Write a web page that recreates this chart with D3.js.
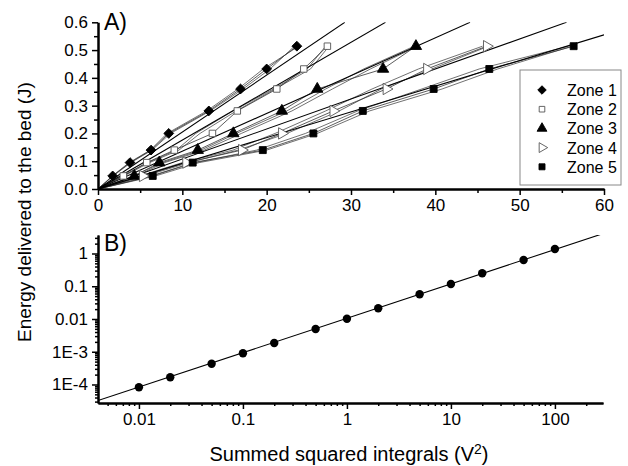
<!DOCTYPE html>
<html>
<head>
  <meta charset="utf-8">
  <script src="https://d3js.org/d3.v7.min.js"></script>
  <style>
    body { margin: 0; background: #fff; }
    text { font-family: "Liberation Sans", Arial, sans-serif; fill: #000; }
  </style>
</head>
<body>
  <svg id="chart"></svg>
  <script>
    // ---- data ----
    const zones = ["Zone 1", "Zone 2", "Zone 3", "Zone 4", "Zone 5"];
    const energyLevels = [0.047, 0.095, 0.140, 0.200, 0.281, 0.360, 0.432, 0.514];

    // mean points (with markers)
    const zone1 = [1.74, 3.80, 6.29, 8.39, 13.14, 16.9, 20.0, 23.58];
    const zone2 = [3.0, 5.78, 9.05, 13.57, 16.52, 21.2, 24.4, 27.2];
    const zone3 = [4.31, 7.27, 11.83, 16.05, 21.8, 26.0, 33.8, 37.7];
    const zone4 = [5.30, 10.44, 17.05, 21.8, 27.9, 34.2, 39.0, 46.1];
    const zone5 = [6.49, 11.23, 19.54, 25.54, 31.4, 39.8, 46.4, 56.4];

    // individual runs (thin lines, no markers)
    const zone1RunA = [1.8, 3.9, 6.4, 8.6, 13.3, 17.2, 20.4, 23.3];
    const zone1RunB = [1.7, 3.7, 6.2, 8.2, 12.9, 16.6, 19.6, 23.8];
    const zone2RunA = [2.9, 5.9, 9.3, 11.6, 16.0, 20.8, 24.8, 27.0];
    const zone2RunB = [3.1, 6.1, 9.6, 12.1, 16.4, 21.0, 25.2, 27.4];
    const zone3RunA = [4.2, 7.6, 12.2, 16.4, 22.4, 27.0, 31.5, 37.5];
    const zone3RunB = [4.5, 7.9, 12.6, 17.0, 23.0, 27.8, 32.3, 37.9];
    const zone4RunA = [5.0, 10.0, 16.0, 21.0, 27.0, 32.5, 38.0, 45.6];
    const zone4RunB = [5.6, 10.8, 16.6, 22.4, 28.6, 33.6, 39.6, 46.3];
    const zone5RunA = [6.2, 11.6, 18.8, 24.6, 30.8, 38.4, 45.2, 55.8];
    const zone5RunB = [6.8, 12.0, 20.0, 26.0, 32.2, 40.8, 47.4, 56.2];

    // fitted slopes of the lines through the origin (J / V^2)
    const fitSlopes = [0.0205, 0.0176, 0.0136, 0.0108, 0.00925];

    // panel B
    const sumSq = [0.01, 0.02, 0.05, 0.1, 0.2, 0.5, 1, 2, 5, 10, 20, 50, 100];
    const energyB = [8.2e-5, 1.66e-4, 4.3e-4, 8.97e-4, 1.85e-3, 4.96e-3, 0.0102, 0.0212, 0.0568, 0.117, 0.248, 0.634, 1.37];
    const fitA = 0.0105, fitB = 1.05;

    const xTicksA = [0, 10, 20, 30, 40, 50, 60];
    const yTicksA = [0.0, 0.1, 0.2, 0.3, 0.4, 0.5, 0.6];
    const xTicksB = [0.01, 0.1, 1, 10, 100];
    const yTicksB = [1e-4, 1e-3, 0.01, 0.1, 1];
    const yLabelsB = ["1E-4", "1E-3", "0.01", "0.1", "1"];

    const markerMeans = [zone1, zone2, zone3, zone4, zone5];
    const runs = [[zone1RunA, zone1RunB], [zone2RunA, zone2RunB], [zone3RunA, zone3RunB],
                  [zone4RunA, zone4RunB], [zone5RunA, zone5RunB]];

    // ---- layout ----
    const W = 628, H = 466;
    const svg = d3.select("#chart").attr("width", W).attr("height", H);

    const left = 98, right = 604;
    const xA = d3.scaleLinear().domain([0, 60]).range([left, right]);
    const yA = d3.scaleLinear().domain([0, 0.6]).range([189, 22.3]);

    const xB = d3.scaleLog().domain([0.00404, 290]).range([left, 603]);
    const yB = d3.scaleLog().domain([2.72e-5, 3.67]).range([403, 235]);

    // marker shapes
    const shapes = [
      { type: d3.symbolSquare, size: 48, rot: 45, fill: "#000", stroke: "#000" },
      { type: d3.symbolSquare, size: 42, rot: 0, fill: "#fff", stroke: "#555" },
      { type: d3.symbolTriangle, size: 56, rot: 0, fill: "#000", stroke: "#000" },
      { type: d3.symbolTriangle, size: 56, rot: 90, fill: "#fff", stroke: "#555" },
      { type: d3.symbolSquare, size: 48, rot: 0, fill: "#000", stroke: "#000" }
    ];

    // ---- panel A ----
    const gA = svg.append("g");
    svg.append("defs").append("clipPath").attr("id", "clipA")
      .append("rect").attr("x", left).attr("y", yA(0.6)).attr("width", right - left).attr("height", yA(0) - yA(0.6));

    const line = d3.line().x(d => xA(d[0])).y(d => yA(d[1]));

    // individual runs
    runs.forEach(rs => rs.forEach(r => {
      gA.append("path")
        .attr("d", line([[0, 0]].concat(r.map((x, i) => [x, energyLevels[i]]))))
        .attr("fill", "none").attr("stroke", "#333").attr("stroke-width", 0.7);
    }));

    // mean line
    markerMeans.forEach(m => {
      gA.append("path")
        .attr("d", line([[0, 0]].concat(m.map((x, i) => [x, energyLevels[i]]))))
        .attr("fill", "none").attr("stroke", "#333").attr("stroke-width", 0.8);
    });

    // fit lines
    fitSlopes.forEach(s => {
      const xEnd = Math.min(60, 0.6 / s);
      gA.append("path")
        .attr("clip-path", "url(#clipA)")
        .attr("d", line([[0, 0], [xEnd, s * xEnd]]))
        .attr("fill", "none").attr("stroke", "#000").attr("stroke-width", 1.1);
    });

    // markers
    markerMeans.forEach((m, z) => {
      const sh = shapes[z];
      gA.selectAll(null).data(m).enter().append("path")
        .attr("d", d3.symbol().type(sh.type).size(sh.size))
        .attr("transform", (d, i) => `translate(${xA(d)},${yA(energyLevels[i])}) rotate(${sh.rot})`)
        .attr("fill", sh.fill).attr("stroke", sh.stroke).attr("stroke-width", 0.9);
    });

    // axes A
    gA.append("g").attr("transform", `translate(0,${yA(0)})`)
      .call(d3.axisBottom(xA).tickValues(xTicksA).tickSize(6).tickSizeOuter(0).tickPadding(4).tickFormat(d3.format("d")));
    gA.append("g").attr("transform", `translate(0,${yA(0)})`)
      .call(d3.axisBottom(xA).tickValues(d3.range(5, 60, 10)).tickSize(4).tickSizeOuter(0).tickFormat(""));
    gA.append("g").attr("transform", `translate(${left},0)`)
      .call(d3.axisLeft(yA).tickValues(yTicksA).tickSize(6).tickSizeOuter(0).tickPadding(4).tickFormat(d3.format(".1f")));
    gA.append("g").attr("transform", `translate(${left},0)`)
      .call(d3.axisLeft(yA).tickValues(d3.range(0.05, 0.6, 0.1)).tickSize(4).tickSizeOuter(0).tickFormat(""));

    gA.append("text").attr("x", 104).attr("y", 30).attr("font-size", 23).text("A)");

    // legend
    const lg = svg.append("g");
    lg.append("rect").attr("x", 520).attr("y", 70).attr("width", 101).attr("height", 115)
      .attr("fill", "#fff").attr("stroke", "#888").attr("stroke-width", 1);
    zones.forEach((z, i) => {
      const sh = shapes[i];
      const yy = 90 + i * 19.2;
      lg.append("path")
        .attr("d", d3.symbol().type(sh.type).size(sh.size * 0.75))
        .attr("transform", `translate(542,${yy}) rotate(${sh.rot})`)
        .attr("fill", sh.fill).attr("stroke", sh.stroke).attr("stroke-width", 0.9);
      lg.append("text").attr("x", 567).attr("y", yy + 6).attr("font-size", 16).text(z);
    });

    // ---- panel B ----
    const gB = svg.append("g");
    svg.select("defs").append("clipPath").attr("id", "clipB")
      .append("rect").attr("x", left).attr("y", 235).attr("width", 603 - left).attr("height", 168);

    const xd = xB.domain();
    gB.append("path")
      .attr("clip-path", "url(#clipB)")
      .attr("d", d3.line()([[xB(xd[0]), yB(fitA * Math.pow(xd[0], fitB))], [xB(xd[1]), yB(fitA * Math.pow(xd[1], fitB))]]))
      .attr("fill", "none").attr("stroke", "#000").attr("stroke-width", 1.1);

    gB.selectAll(null).data(sumSq).enter().append("circle")
      .attr("cx", d => xB(d)).attr("cy", (d, i) => yB(energyB[i])).attr("r", 4.2).attr("fill", "#000");

    const minorX = xB.ticks().filter(t => !xTicksB.includes(t));
    const minorY = yB.ticks().filter(t => !yTicksB.some(v => Math.abs(v - t) / v < 1e-6));

    gB.append("g").attr("transform", "translate(0,403)")
      .call(d3.axisBottom(xB).tickValues(xTicksB).tickSize(6).tickSizeOuter(0).tickPadding(4).tickFormat(d => d3.format("~g")(d)));
    gB.append("g").attr("transform", "translate(0,403)")
      .call(d3.axisBottom(xB).tickValues(minorX).tickSize(3).tickSizeOuter(0).tickFormat(""));
    gB.append("g").attr("transform", `translate(${left},0)`)
      .call(d3.axisLeft(yB).tickValues(yTicksB).tickSize(6).tickSizeOuter(0).tickPadding(4).tickFormat((d, i) => yLabelsB[i]));
    gB.append("g").attr("transform", `translate(${left},0)`)
      .call(d3.axisLeft(yB).tickValues(minorY).tickSize(3).tickSizeOuter(0).tickFormat(""));

    gB.append("text").attr("x", 104).attr("y", 251).attr("font-size", 23).text("B)");

    // axis styling
    svg.selectAll(".domain").attr("stroke", "#000").attr("stroke-width", 2);
    svg.selectAll(".tick line").attr("stroke", "#000").attr("stroke-width", 1.5);
    svg.selectAll(".tick text").attr("font-size", 17).attr("font-family", "Liberation Sans, Arial, sans-serif").attr("fill", "#000");

    // titles
    svg.append("text").attr("transform", "translate(31,212) rotate(-90)")
      .attr("text-anchor", "middle").attr("font-size", 19).text("Energy delivered to the bed (J)");
    const xt = svg.append("text").attr("x", 349).attr("y", 461).attr("text-anchor", "middle").attr("font-size", 20);
    xt.append("tspan").text("Summed squared integrals (V");
    xt.append("tspan").attr("dy", -7).attr("font-size", 14).text("2");
    xt.append("tspan").attr("dy", 7).text(")");
  </script>
</body>
</html>
